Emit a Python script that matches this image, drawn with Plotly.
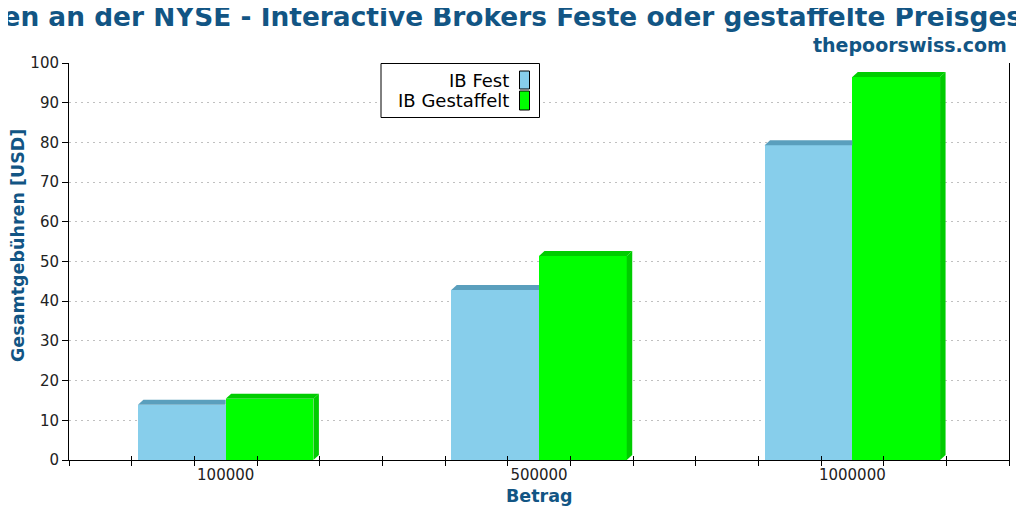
import plotly.graph_objects as go

# data
betrag = ["100000", "500000", "1000000"]
ib_fest = [13.9, 42.8, 79.3]
ib_gestaffelt = [15.4, 51.4, 96.5]
series_names = ["IB Fest", "IB Gestaffelt"]

title_text = "Gebühren an der NYSE - Interactive Brokers Feste oder gestaffelte Preisgestaltung"

# figure size; the page puts the figure 8px in from the top-left corner
W, H = 1024, 512
OFF = 8
# plot area: page x 69..1000.5, page y 63..460
L, R, T, B = 61, 23, 55, 60
PW, PH = W - L - R, H - T - B

BLUE, BLUE_TOP = "#87ceeb", "#5a9fbd"
GREEN, GREEN_DARK = "#00ff00", "#00cc00"
TXT_BLUE = "#125584"

bar_w = 0.28
dx = 5.5 / PW * 3.0      # depth in x units (3 categories over the width)
dy = 5.0 / PH * 100.0    # depth in y units


def px_x(p):
    # page pixel -> paper x
    return (p - OFF - L) / PW


def px_y(p):
    # page pixel -> paper y
    return (H - B - (p - OFF)) / PH


xs = list(range(len(betrag)))
fig = go.Figure()

fig.add_trace(go.Bar(x=xs, y=ib_fest, offset=-bar_w, width=bar_w,
                     marker=dict(color=BLUE, line=dict(width=0)),
                     name=series_names[0], showlegend=False, hoverinfo="y"))
fig.add_trace(go.Bar(x=xs, y=ib_gestaffelt, offset=0, width=bar_w,
                     marker=dict(color=GREEN, line=dict(width=0)),
                     name=series_names[1], showlegend=False, hoverinfo="y"))

# 3d top / side faces
for x, v in zip(xs, ib_fest):
    x0, x1 = x - bar_w, x
    fig.add_trace(go.Scatter(x=[x0, x0 + dx, x1, x1, x0], y=[v, v + dy, v + dy, v, v],
                             mode="lines", fill="toself", fillcolor=BLUE_TOP,
                             line=dict(width=0, color=BLUE_TOP),
                             showlegend=False, hoverinfo="skip"))
for x, v in zip(xs, ib_gestaffelt):
    x0, x1 = x, x + bar_w
    fig.add_trace(go.Scatter(x=[x0, x0 + dx, x1 + dx, x1, x0], y=[v, v + dy, v + dy, v, v],
                             mode="lines", fill="toself", fillcolor=GREEN_DARK,
                             line=dict(width=0, color=GREEN_DARK),
                             showlegend=False, hoverinfo="skip"))
    fig.add_trace(go.Scatter(x=[x1, x1 + dx, x1 + dx, x1, x1], y=[v, v + dy, dy, 0, v],
                             mode="lines", fill="toself", fillcolor=GREEN_DARK,
                             line=dict(width=0, color=GREEN_DARK),
                             showlegend=False, hoverinfo="skip"))

# dummy trace for the overlay axis (inner half of the x ticks)
fig.add_trace(go.Scatter(x=[-0.5], y=[0], xaxis="x2", mode="markers",
                         marker=dict(opacity=0), showlegend=False, hoverinfo="skip"))

tick_marks = [-0.5 + 0.2 * k for k in range(16)]

fig.update_layout(
    width=W, height=H,
    margin=dict(l=L, r=R, t=T, b=B),
    paper_bgcolor="white", plot_bgcolor="white",
    font=dict(family="DejaVu Sans", size=15, color="#222222"),
    title=dict(text="<b>" + title_text + "</b>", xref="container", x=(512 - OFF) / W,
               xanchor="center", yref="container", y=1 - (17 - OFF) / H, yanchor="middle",
               font=dict(size=26.4, color=TXT_BLUE)),
    xaxis=dict(range=[-0.5, 2.5], tickmode="array", tickvals=xs, ticktext=betrag,
               ticks="outside", ticklen=1, tickcolor="rgba(0,0,0,0)",
               showline=True, linecolor="black", linewidth=1,
               showgrid=False, zeroline=False,
               minor=dict(tickmode="array", tickvals=tick_marks, ticks="outside",
                          ticklen=5, tickcolor="black", tickwidth=1, showgrid=False)),
    xaxis2=dict(range=[-0.5, 2.5], overlaying="x", anchor="y", side="bottom",
                tickmode="array", tickvals=tick_marks, ticks="inside", ticklen=4,
                tickcolor="black", showticklabels=False, showline=False,
                showgrid=False, zeroline=False),
    yaxis=dict(range=[0, 100], dtick=10, ticks="outside", ticklen=6, tickcolor="black",
               showline=True, linecolor="black", linewidth=1, mirror=True,
               showgrid=True, gridcolor="#c0c0c0", gridwidth=1, griddash="2px,4px",
               zeroline=False),
    bargap=0,
    showlegend=False,
)

# subtitle and axis titles
fig.add_annotation(text="<b>thepoorswiss.com</b>", xref="paper", yref="paper",
                   x=px_x(1009), y=px_y(45), xanchor="right", yanchor="middle",
                   showarrow=False, font=dict(size=19, color=TXT_BLUE))
fig.add_annotation(text="<b>Betrag</b>", xref="paper", yref="paper",
                   x=px_x(539), y=px_y(496), xanchor="center", yanchor="middle",
                   showarrow=False, font=dict(size=17.5, color=TXT_BLUE))
fig.add_annotation(text="<b>Gesamtgebühren [USD]</b>", xref="paper", yref="paper",
                   x=px_x(18), y=px_y(246), xanchor="center", yanchor="middle",
                   textangle=-90, showarrow=False, font=dict(size=17.5, color=TXT_BLUE))

# legend box drawn by hand (swatches sit to the right of the labels)
fig.add_shape(type="rect", xref="paper", yref="paper",
              x0=px_x(381), x1=px_x(539.5), y0=px_y(117.5), y1=px_y(63.5),
              line=dict(color="black", width=1), fillcolor="white", layer="above")
legend_rows = [(series_names[0], BLUE, 71, 89, 80), (series_names[1], GREEN, 91, 110, 100)]
for name, col, top, bot, mid in legend_rows:
    fig.add_shape(type="rect", xref="paper", yref="paper",
                  x0=px_x(519.5), x1=px_x(529.5), y0=px_y(bot), y1=px_y(top),
                  line=dict(color="black", width=1), fillcolor=col, layer="above")
    fig.add_annotation(text=name, xref="paper", yref="paper",
                       x=px_x(511), y=px_y(mid), xanchor="right", yanchor="middle",
                       showarrow=False, font=dict(size=18, color="black"))

fig.write_html("out.html")
